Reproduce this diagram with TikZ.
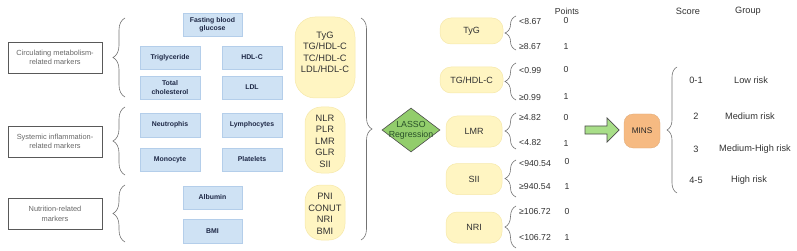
\documentclass[tikz,border=0pt]{standalone}
\usepackage{fontspec}
\setmainfont{Liberation Sans}
\usetikzlibrary{shapes.geometric,decorations.pathreplacing}
\definecolor{bluefill}{RGB}{207,226,244}
\definecolor{blueline}{RGB}{180,206,234}
\definecolor{navytxt}{RGB}{30,40,70}
\definecolor{yelfill}{RGB}{255,245,194}
\definecolor{yelline}{RGB}{246,232,170}
\definecolor{diagreen}{RGB}{146,205,108}
\definecolor{diatxt}{RGB}{40,80,40}
\definecolor{arrgreen}{RGB}{168,222,136}
\definecolor{minsor}{RGB}{246,186,130}
\definecolor{darktxt}{RGB}{50,50,50}
\begin{document}
\begin{tikzpicture}[x=1pt,y=-1pt,
  catbox/.style={draw=black!65, line width=0.6pt, minimum width=94pt, minimum height=31pt, align=center, inner sep=1pt, text=black!60, font=\fontsize{7.4}{9.6}\selectfont},
  bluebox/.style={fill=bluefill, draw=blueline, line width=0.4pt, minimum width=60pt, minimum height=23pt, align=center, inner sep=1pt, text=navytxt, font=\bfseries\fontsize{6.9}{8.4}\selectfont},
  yelbox/.style={fill=yelfill, draw=yelline, line width=0.5pt, rounded corners=#1, inner sep=0pt},
  yelbox/.default=11pt,
  listtxt/.style={align=center, inner sep=0pt, text=darktxt, font=\fontsize{9.3}{11.5}\selectfont},
  restxt/.style={inner sep=0pt, text=darktxt, font=\fontsize{9}{11}\selectfont},
  thr/.style={anchor=west, inner sep=0pt, text=darktxt, font=\fontsize{8.7}{10}\selectfont},
  pts/.style={inner sep=0pt, text=darktxt, font=\fontsize{8.7}{10}\selectfont},
  grp/.style={inner sep=0pt, text=darktxt, font=\fontsize{9.2}{11}\selectfont},
  mybrace/.style={decorate, decoration={brace, amplitude=#1, aspect=0.5}, draw=black!55, line width=0.6pt},
]
\useasboundingbox (0,0) rectangle (797,251);

% category boxes
\node[catbox] (c1) at (55,57.5) {Circulating metabolism-\\related markers};
\node[catbox] (c2) at (55,141.5) {Systemic inflammation-\\related markers};
\node[catbox] (c3) at (55,214) {Nutrition-related\\markers};

% left braces
\draw[mybrace=12pt] (125,97) -- (125,18);
\draw[mybrace=12pt] (125,175) -- (125,107);
\draw[mybrace=12pt] (125,242) -- (125,185);

% blue boxes
\node[bluebox, minimum width=59pt] (fbg) at (212.5,24.5) {Fasting blood\\glucose};
\node[bluebox] (tri) at (170,57.5) {Triglyceride};
\node[bluebox] (hdl) at (252,57.5) {HDL-C};
\node[bluebox] (tc) at (170,87.5) {Total\\cholesterol};
\node[bluebox] (ldl) at (252,87.5) {LDL};
\node[bluebox, minimum height=24pt] (neu) at (170,125) {Neutrophis};
\node[bluebox, minimum height=24pt] (lym) at (252,125) {Lymphocytes};
\node[bluebox] (mono) at (170,159.5) {Monocyte};
\node[bluebox] (plat) at (252,159.5) {Platelets};
\node[bluebox, minimum width=59pt] (alb) at (212.5,197.5) {Albumin};
\node[bluebox, minimum width=59pt, minimum height=24pt] (bmi) at (212.5,231) {BMI};

% yellow list boxes
\node[yelbox=20pt, minimum width=60pt, minimum height=81pt] (y1) at (325,57.5) {};
\node[listtxt] (y1t) at (325,52.5) {TyG\\TG/HDL-C\\TC/HDL-C\\LDL/HDL-C};
\node[yelbox=16pt, minimum width=40pt, minimum height=66pt] (y2) at (325,140) {};
\node[listtxt] (y2t) at (325,141) {NLR\\PLR\\LMR\\GLR\\SII};
\node[yelbox=16pt, minimum width=40pt, minimum height=55pt] (y3) at (325,212.5) {};
\node[listtxt] (y3t) at (325,214) {PNI\\CONUT\\NRI\\BMI};

% big brace
\draw[mybrace=11pt] (361,18) -- (361,240);

% LASSO diamond
\node[diamond, fill=diagreen, draw=black!70, line width=0.6pt, minimum width=58pt, minimum height=44pt, inner sep=0pt] (lasso) at (411,130) {};
\node[align=center, inner sep=0pt, text=diatxt, font=\fontsize{8.8}{9.8}\selectfont] (lassot) at (411,130) {LASSO\\Regression};

% result boxes
\node[yelbox, minimum width=63pt, minimum height=26pt, restxt] (r1) at (471.5,31) {TyG};
\node[yelbox, minimum width=63pt, minimum height=26pt, restxt] (r2) at (471.5,80) {TG/HDL-C};
\node[yelbox, minimum width=56pt, minimum height=31pt, restxt] (r3) at (474,131.5) {LMR};
\node[yelbox, minimum width=56pt, minimum height=31pt, restxt] (r4) at (474,179) {SII};
\node[yelbox, minimum width=56pt, minimum height=31pt, restxt] (r5) at (474,227.5) {NRI};

% small braces
\draw[mybrace=11pt] (516,50) -- (516,16);
\draw[mybrace=11pt] (516,100) -- (516,63);
\draw[mybrace=11pt] (516,149) -- (516,113);
\draw[mybrace=11pt] (516,197) -- (516,160);
\draw[mybrace=11pt] (516,248) -- (516,206);

% thresholds
\node[thr] (t1a) at (519,22) {<8.67};
\node[thr] (t1b) at (519,47) {≥8.67};
\node[thr] (t2a) at (519,71) {<0.99};
\node[thr] (t2b) at (519,98) {≥0.99};
\node[thr] (t3a) at (519,118) {≥4.82};
\node[thr] (t3b) at (519,143) {<4.82};
\node[thr] (t4a) at (519,164) {<940.54};
\node[thr] (t4b) at (519,187) {≥940.54};
\node[thr] (t5a) at (519,212) {≥106.72};
\node[thr] (t5b) at (519,238) {<106.72};

% points
\node[pts] (ph) at (567,11) {Points};
\node[pts] (p1a) at (566,21) {0};
\node[pts] (p1b) at (566,47) {1};
\node[pts] (p2a) at (566,70) {0};
\node[pts] (p2b) at (566,97) {1};
\node[pts] (p3a) at (566,118) {0};
\node[pts] (p3b) at (566,144) {1};
\node[pts] (p4a) at (567,162) {0};
\node[pts] (p4b) at (567,187) {1};
\node[pts] (p5a) at (567,212) {0};
\node[pts] (p5b) at (567,238) {1};

% green block arrow
\draw[fill=arrgreen, draw=black!70, line width=0.7pt, line join=miter]
  (585,126) -- (607,126) -- (607,118) -- (619,130) -- (607,142) -- (607,134) -- (585,134) -- cycle;

% MINS
\node[fill=minsor, draw=minsor!90!black, line width=0.3pt, rounded corners=9pt, minimum width=36pt, minimum height=34pt, inner sep=0pt, text=black!85, font=\fontsize{8.2}{10}\selectfont] (mins) at (642,131) {MINS};

% MINS brace
\draw[mybrace=10pt] (677,193) -- (677,67);

% score / group
\node[grp] (sh) at (688,11) {Score};
\node[grp] (gh) at (748,11) {Group};
\node[grp] (s1) at (696,80) {0-1};
\node[grp] (s2) at (696,116) {2};
\node[grp] (s3) at (696,149) {3};
\node[grp] (s4) at (696,180) {4-5};
\node[grp] (g1) at (751,80) {Low risk};
\node[grp] (g2) at (750,116) {Medium risk};
\node[grp] (g3) at (755,149) {Medium-High risk};
\node[grp] (g4) at (749,180) {High risk};
\end{tikzpicture}
\end{document}
